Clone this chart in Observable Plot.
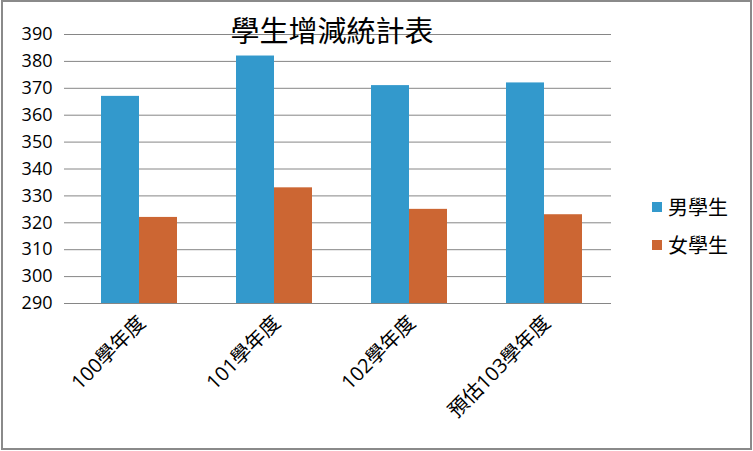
<!DOCTYPE html>
<html>
<head>
<meta charset="utf-8">
<script src="https://cdn.jsdelivr.net/npm/d3@7"></script>
<script src="https://cdn.jsdelivr.net/npm/@observablehq/plot@0.6"></script>
<style>
html, body { margin: 0; padding: 0; background: #fff; }
#wrap { position: relative; width: 753px; height: 451px; overflow: hidden; background: #fff; }
#chart { position: absolute; left: 0; top: 0; }
#border { position: absolute; left: 1px; top: 0; width: 751px; height: 450px; border: 2px solid #8a8a8a; box-sizing: border-box; pointer-events: none; }
#title { position: absolute; left: 0; top: 15px; width: 664px; text-align: center; font-family: "Noto Sans CJK TC", sans-serif; font-size: 29px; line-height: 29px; color: #000; }
.leg { position: absolute; left: 652px; height: 24px; display: flex; align-items: center; font-family: "Noto Sans CJK TC", sans-serif; font-size: 20px; line-height: 24px; color: #000; }
.sw { width: 10px; height: 10px; margin-right: 6px; }
</style>
</head>
<body>
<div id="wrap">
  <div id="chart"></div>
  <div id="title"></div>
  <div id="legend"></div>
  <div id="border"></div>
</div>
<script>
const title = "學生增減統計表";
const categories = ["100學年度", "101學年度", "102學年度", "預估103學年度"];
const series = ["男學生", "女學生"];
const male = [367, 382, 371, 372];
const female = [322, 333, 325, 323];
const yTicks = [290, 300, 310, 320, 330, 340, 350, 360, 370, 380, 390];
const colors = ["#3399cc", "#cc6633"];

const data = categories.flatMap((c, i) => [
  {cat: c, s: series[0], v: male[i]},
  {cat: c, s: series[1], v: female[i]}
]);

const W = 753, H = 451, ML = 70, MR = 141, MT = 34, MB = 148;
const half = (W - ML - MR) / categories.length / 2;
const grey = "#868686";

const chart = Plot.plot({
  width: W,
  height: H,
  marginLeft: ML,
  marginRight: MR,
  marginTop: MT,
  marginBottom: MB,
  style: {fontFamily: '"Open Sans", "Noto Sans CJK TC", sans-serif', fontSize: "18px", background: "transparent", color: "#000", overflow: "visible"},
  fx: {domain: categories, padding: 0, label: null},
  x: {domain: series, paddingInner: 0, paddingOuter: 0.74, axis: null},
  y: {domain: [yTicks[0], yTicks[yTicks.length - 1]], label: null},
  color: {domain: series, range: colors},
  marks: [
    Plot.ruleY(yTicks, {y: d => d, stroke: grey, strokeWidth: 1}),
    Plot.barY(data, {fx: "cat", x: "s", y1: yTicks[0], y2: "v", fill: "s"}),
    Plot.ruleX(categories.slice(0, 1), {fx: d => d, y1: yTicks[yTicks.length - 1], y2: yTicks[0], insetBottom: -5, dx: -half, stroke: grey}),
    Plot.ruleX(categories.slice(1), {fx: d => d, y1: yTicks[0], y2: yTicks[0], insetBottom: -5, dx: -half, stroke: grey}),
    Plot.ruleX(categories.slice(-1), {fx: d => d, y1: yTicks[0], y2: yTicks[0], insetBottom: -5, dx: half, stroke: grey}),
    Plot.axisY(yTicks, {anchor: "left", tickSize: 7, tickPadding: 12, stroke: grey, fill: "#000", fontSize: 18, label: null}),
    Plot.axisFx({anchor: "bottom", tickRotate: -45, tickSize: 0, tickPadding: 16, dx: 3, fontSize: 20, fill: "#000", label: null})
  ]
});
document.getElementById("chart").appendChild(chart);

document.getElementById("title").textContent = title;
const legend = document.getElementById("legend");
const legTops = [195, 233];
series.forEach((s, i) => {
  const item = document.createElement("div");
  item.className = "leg";
  item.style.top = legTops[i] + "px";
  const sw = document.createElement("div");
  sw.className = "sw";
  sw.style.background = colors[i];
  const t = document.createElement("span");
  t.textContent = s;
  item.appendChild(sw);
  item.appendChild(t);
  legend.appendChild(item);
});
</script>
</body>
</html>
